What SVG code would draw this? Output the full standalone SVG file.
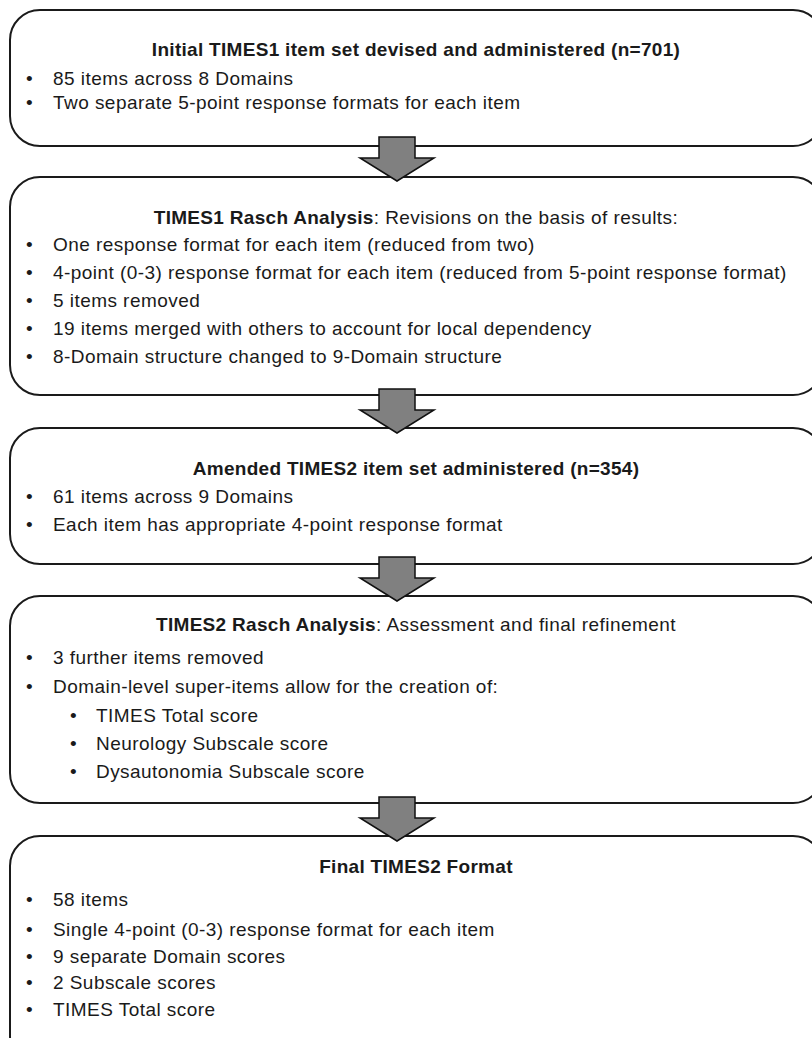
<svg xmlns="http://www.w3.org/2000/svg" xmlns:xlink="http://www.w3.org/1999/xlink" width="812" height="1038" viewBox="0 0 812 1038">
  <style>
    .box { fill: #ffffff; stroke: #1a1a1a; stroke-width: 2; }
    .arrow { fill: #808080; stroke: #111111; stroke-width: 1.5; stroke-linejoin: miter; }
    text { font-family: "Liberation Sans", Arial, sans-serif; font-size: 19px; fill: #1a1a1a; letter-spacing: 0.45px; }
    .title { text-anchor: middle; }
    .b { font-weight: bold; letter-spacing: 0.3px; }
  </style>
  <defs>
    <polygon id="arr" points="-18,0 18,0 18,21 37,21 0,44 -37,21 -18,21" />
  </defs>
  <rect width="812" height="1038" fill="#ffffff"/>

  <g id="node1">
    <rect class="box" x="10" y="10" width="813" height="136" rx="30" ry="30"/>
    <text class="title b" x="416" y="56">Initial TIMES1 item set devised and administered (n=701)</text>
    <text x="26" y="85">•</text><text x="53" y="85">85 items across 8 Domains</text>
    <text x="26" y="109">•</text><text x="53" y="109">Two separate 5-point response formats for each item</text>
  </g>

  <g id="node2">
    <rect class="box" x="10" y="177" width="813" height="218" rx="30" ry="30"/>
    <text class="title" x="416" y="224"><tspan class="b">TIMES1 Rasch Analysis</tspan>: Revisions on the basis of results:</text>
    <text x="26" y="251">•</text><text x="53" y="251">One response format for each item (reduced from two)</text>
    <text x="26" y="279">•</text><text x="53" y="279">4-point (0-3) response format for each item (reduced from 5-point response format)</text>
    <text x="26" y="307">•</text><text x="53" y="307">5 items removed</text>
    <text x="26" y="335">•</text><text x="53" y="335">19 items merged with others to account for local dependency</text>
    <text x="26" y="363">•</text><text x="53" y="363">8-Domain structure changed to 9-Domain structure</text>
  </g>

  <g id="node3">
    <rect class="box" x="10" y="428" width="813" height="136" rx="30" ry="30"/>
    <text class="title b" x="416" y="475">Amended TIMES2 item set administered (n=354)</text>
    <text x="26" y="503">•</text><text x="53" y="503">61 items across 9 Domains</text>
    <text x="26" y="531">•</text><text x="53" y="531">Each item has appropriate 4-point response format</text>
  </g>

  <g id="node4">
    <rect class="box" x="10" y="596" width="813" height="207" rx="30" ry="30"/>
    <text class="title" x="416" y="631"><tspan class="b">TIMES2 Rasch Analysis</tspan>: Assessment and final refinement</text>
    <text x="26" y="664">•</text><text x="53" y="664">3 further items removed</text>
    <text x="26" y="693">•</text><text x="53" y="693">Domain-level super-items allow for the creation of:</text>
    <text x="70" y="722">•</text><text x="96" y="722">TIMES Total score</text>
    <text x="70" y="750">•</text><text x="96" y="750">Neurology Subscale score</text>
    <text x="70" y="778">•</text><text x="96" y="778">Dysautonomia Subscale score</text>
  </g>

  <g id="node5">
    <rect class="box" x="10" y="836" width="813" height="230" rx="30" ry="30"/>
    <text class="title b" x="416" y="873">Final TIMES2 Format</text>
    <text x="26" y="906">•</text><text x="53" y="906">58 items</text>
    <text x="26" y="936">•</text><text x="53" y="936">Single 4-point (0-3) response format for each item</text>
    <text x="26" y="963">•</text><text x="53" y="963">9 separate Domain scores</text>
    <text x="26" y="989">•</text><text x="53" y="989">2 Subscale scores</text>
    <text x="26" y="1016">•</text><text x="53" y="1016">TIMES Total score</text>
  </g>

  <g id="connectors">
    <use xlink:href="#arr" class="arrow" transform="translate(397,137)"/>
    <use xlink:href="#arr" class="arrow" transform="translate(397,389)"/>
    <use xlink:href="#arr" class="arrow" transform="translate(397,557)"/>
    <use xlink:href="#arr" class="arrow" transform="translate(397,797)"/>
  </g>
</svg>
